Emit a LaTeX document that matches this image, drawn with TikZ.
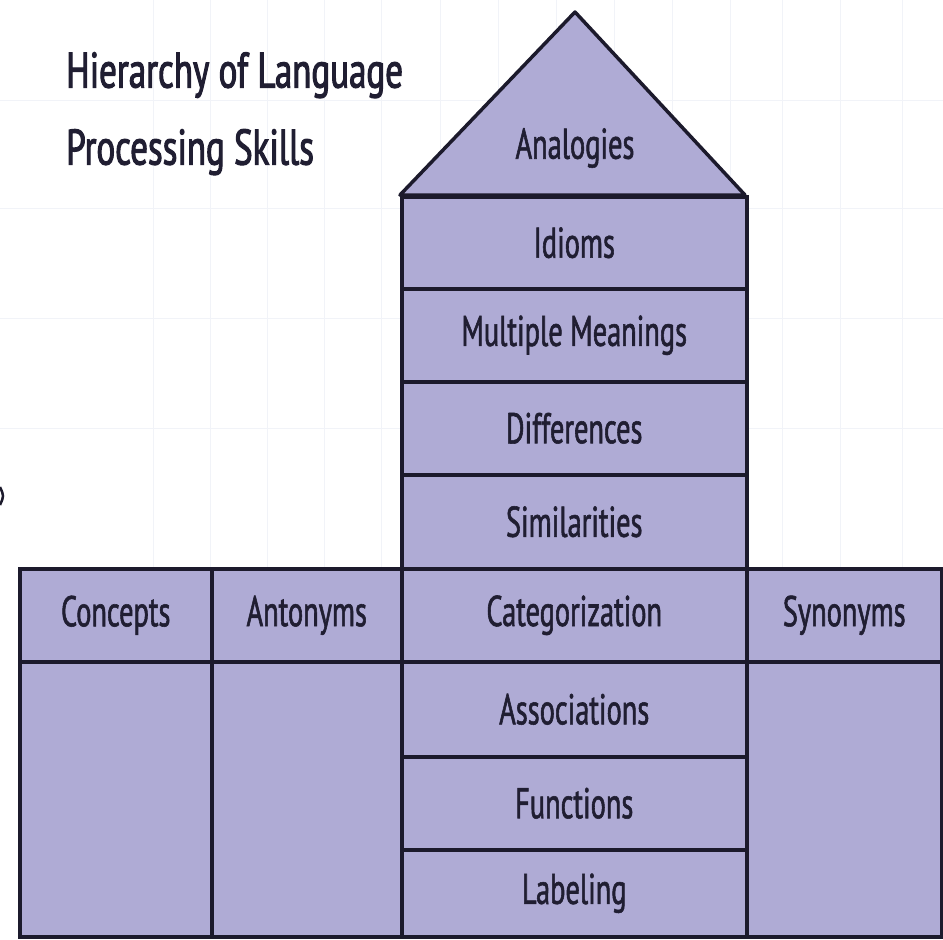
\documentclass[tikz,border=0pt]{standalone}
\usepackage{fontspec}
\setmainfont{PT Sans}[FakeStretch=0.66]
\newfontfamily\cellfont{PT Sans}[FakeStretch=0.66, FakeBold=1.3]
\newfontfamily\headfont{PT Sans}[FakeStretch=0.70, FakeBold=2]
\definecolor{lav}{RGB}{175,171,213}
\definecolor{edge}{RGB}{28,26,44}
\definecolor{ink}{RGB}{32,30,50}
\definecolor{gridline}{RGB}{241,243,248}
\begin{document}
\begin{tikzpicture}[x=1pt,y=-1pt,
  cell/.style={draw=edge, fill=lav, line width=3.5pt, inner sep=0pt,
    anchor=north west, text=ink, font=\cellfont\fontsize{43}{43}\selectfont},
  titletext/.style={anchor=north west, inner sep=0pt, text=ink, align=left,
    font=\headfont\fontsize{50}{77}\selectfont}]
\useasboundingbox (0,0) rectangle (943,940);
\fill[white] (0,0) rectangle (943,940);

% faint background grid
\foreach \gx in {153,210,267,324,381,440,498,556,614,672,730,782,840,902}
  \draw[gridline, line width=1pt] (\gx,0) -- (\gx,567);
\foreach \gy in {100,208,318,428}
  \draw[gridline, line width=1pt] (0,\gy) -- (943,\gy);

% small mark at the left edge
\draw[edge, line width=2.5pt] (0,487) .. controls (4,496) .. (0,505);

% title
\node[titletext] (title) at (66,52) {Hierarchy of Language\\Processing Skills};

% roof
\filldraw[fill=lav, draw=edge, line width=3.5pt, line join=round]
  (400,195) -- (575,12) -- (745,195) -- cycle;
\node[text=ink, font=\cellfont\fontsize{43}{43}\selectfont] (analogies) at (575,148) {Analogies};

% central column
\node[cell, minimum width=345, minimum height=92] (idioms) at (400,195) {Idioms};
\node[cell, minimum width=345, minimum height=93] (multiple) at (400,287) {Multiple Meanings};
\node[cell, minimum width=345, minimum height=93] (differences) at (400,380) {Differences};
\node[cell, minimum width=345, minimum height=94] (similarities) at (400,473) {Similarities};

% wide band
\node[cell, minimum width=192, minimum height=93] (concepts) at (18,567) {Concepts};
\node[cell, minimum width=190, minimum height=93] (antonyms) at (210,567) {Antonyms};
\node[cell, minimum width=195, minimum height=93] (synonyms) at (745,567) {Synonyms};
\node[cell, minimum width=192, minimum height=275] (conceptsLow) at (18,660) {};
\node[cell, minimum width=190, minimum height=275] (antonymsLow) at (210,660) {};
\node[cell, minimum width=195, minimum height=275] (synonymsLow) at (745,660) {};

\node[cell, minimum width=345, minimum height=93] (categorization) at (400,567) {Categorization};
\node[cell, minimum width=345, minimum height=95] (associations) at (400,660) {Associations};
\node[cell, minimum width=345, minimum height=93] (functions) at (400,755) {Functions};
\node[cell, minimum width=345, minimum height=87] (labeling) at (400,848) {Labeling};
\end{tikzpicture}
\end{document}
